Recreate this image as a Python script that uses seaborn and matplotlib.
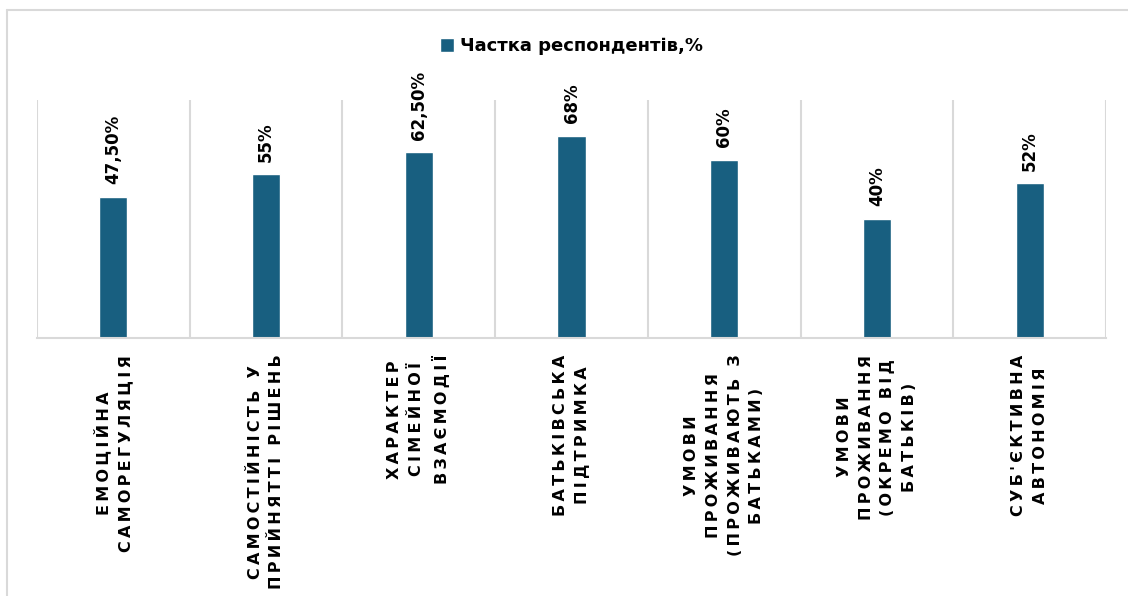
import numpy as np
import pandas as pd
import matplotlib.pyplot as plt
import seaborn as sns
from matplotlib.lines import Line2D

# Дані з діаграми
categories = [
    'ЕМОЦІЙНА\nСАМОРЕГУЛЯЦІЯ',
    'САМОСТІЙНІСТЬ У\nПРИЙНЯТТІ РІШЕНЬ',
    'ХАРАКТЕР\nСІМЕЙНОЇ\nВЗАЄМОДІЇ',
    'БАТЬКІВСЬКА\nПІДТРИМКА',
    'УМОВИ\nПРОЖИВАННЯ\n(ПРОЖИВАЮТЬ З\nБАТЬКАМИ)',
    'УМОВИ\nПРОЖИВАННЯ\n(ОКРЕМО ВІД\nБАТЬКІВ)',
    "СУБ'ЄКТИВНА\nАВТОНОМІЯ",
]
values = [47.5, 55, 62.5, 68, 60, 40, 52]
value_labels = ['47,50%', '55%', '62,50%', '68%', '60%', '40%', '52%']
series_name = 'Частка респондентів,%'

bar_color = '#185f80'
line_color = '#d9d9d9'


def spaced(text):
    # розрядка літер, як у підписах осі
    return '\n'.join('\u2009'.join(line) for line in text.split('\n'))


df = pd.DataFrame({'category': categories, 'value': values})

sns.set_style('white')
plt.rcParams['font.family'] = ['DejaVu Sans']
plt.rcParams['text.color'] = 'black'
plt.rcParams['xtick.color'] = 'black'

fig = plt.figure(figsize=(11.28, 5.96), dpi=100)
ax = fig.add_axes([37 / 1128, 258 / 596, 1069 / 1128, 238 / 596])

sns.barplot(data=df, x='category', y='value', color=bar_color, width=0.185,
            saturation=1, label=series_name, ax=ax)

ax.bar_label(ax.containers[0], labels=value_labels, rotation=90, padding=9,
             fontsize=12, fontweight='bold', color='black')

n = len(categories)
ax.set_xlim(-0.5, n - 0.5)
ax.set_ylim(0, 80)
ax.set_yticks([])
ax.set_xlabel('')
ax.set_ylabel('')

# вертикальні розділювачі між категоріями
ax.set_xticks(np.arange(-0.5, n), minor=True)
ax.grid(which='minor', axis='x', color=line_color, lw=1.5)
ax.tick_params(which='both', length=0)

ax.set_xticks(range(n))
ax.set_xticklabels([spaced(c) for c in categories], rotation=90,
                   fontsize=11.5, fontweight='bold', linespacing=1.55,
                   color='black')
ax.tick_params(axis='x', pad=12)

for s in ['top', 'right', 'left']:
    ax.spines[s].set_visible(False)
ax.spines['bottom'].set_color(line_color)
ax.spines['bottom'].set_linewidth(1.5)

leg = ax.legend(loc='lower center', bbox_to_anchor=(0.5, 1.12), frameon=False,
                handlelength=0.75, handleheight=0.75, handletextpad=0.35,
                prop={'weight': 'bold', 'size': 13})
for t in leg.get_texts():
    t.set_color('black')

# рамка області діаграми (видно лише ліву та верхню сторони)
x0 = 6.5 / 1128
y0 = 1 - 9.5 / 596
fig.add_artist(Line2D([x0, x0], [0, y0], color=line_color, lw=1.5,
                      transform=fig.transFigure))
fig.add_artist(Line2D([x0, 1], [y0, y0], color=line_color, lw=1.5,
                      transform=fig.transFigure))

fig.savefig('out.png', dpi=100)
plt.close(fig)
